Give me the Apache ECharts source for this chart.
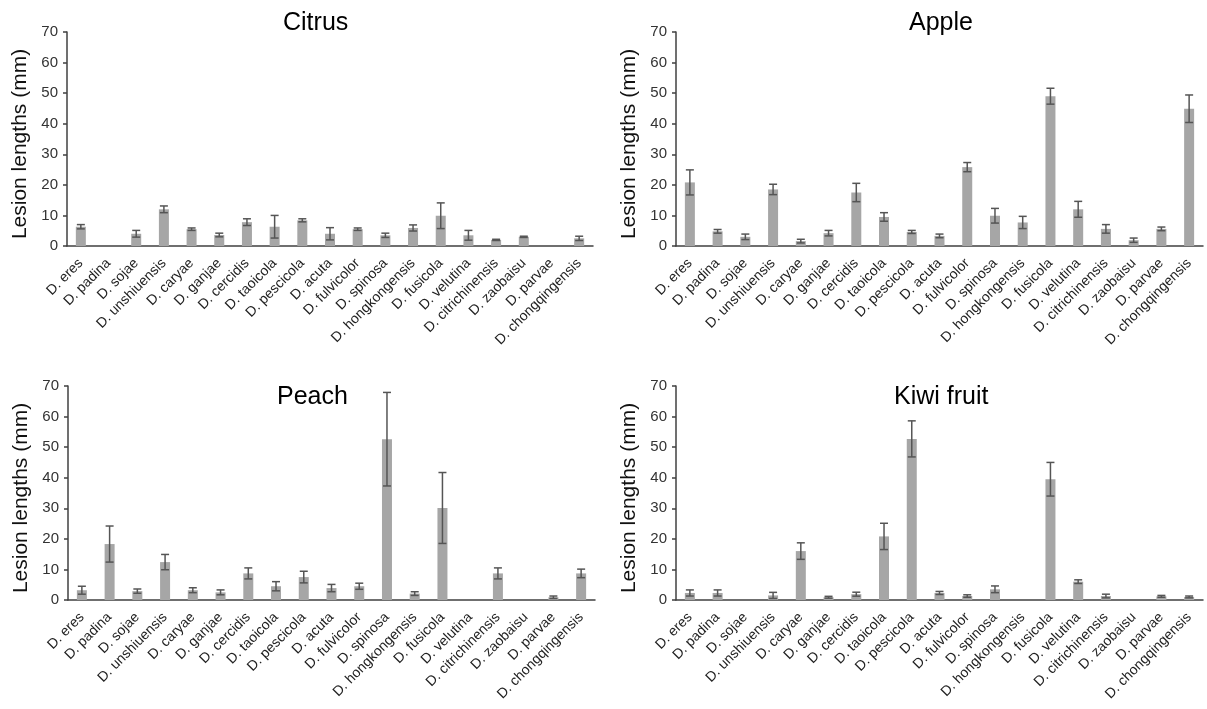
<!DOCTYPE html>
<html><head><meta charset="utf-8">
<script src="https://cdn.jsdelivr.net/npm/echarts@6/dist/echarts.min.js"></script>
<style>html,body{margin:0;padding:0;background:#fff}#c{width:1207px;height:709px}</style>
</head><body><div id="c"></div>
<script>
const categories = ['D. eres','D. padina','D. sojae','D. unshiuensis','D. caryae','D. ganjae','D. cercidis','D. taoicola','D. pescicola','D. acuta','D. fulvicolor','D. spinosa','D. hongkongensis','D. fusicola','D. velutina','D. citrichinensis','D. zaobaisu','D. parvae','D. chongqingensis'];
const yTicks = [0,10,20,30,40,50,60,70];

const citrusMean = [6.3,0,4.0,12.0,5.5,3.6,7.8,6.3,8.4,4.0,5.5,3.5,5.9,9.9,3.5,2.0,3.0,0,2.5];
const citrusErr  = [0.7,0,1.1,1.1,0.4,0.6,1.1,3.7,0.5,2.0,0.4,0.7,1.0,4.2,1.6,0.2,0.2,0,0.7];

const appleMean = [20.8,4.8,3.0,18.5,1.6,4.2,17.5,9.5,4.6,3.3,25.8,9.9,7.7,49.0,12.0,5.6,1.9,5.6,44.9];
const appleErr  = [4.1,0.6,0.9,1.7,0.6,0.9,3.0,1.4,0.5,0.6,1.5,2.4,2.0,2.6,2.6,1.4,0.7,0.6,4.5];

const peachMean = [3.2,18.3,2.9,12.4,3.2,2.5,8.7,4.5,7.5,3.9,4.5,52.6,2.1,30.1,0,8.7,0,0.9,8.7];
const peachErr  = [1.3,5.9,0.7,2.5,0.8,0.8,1.8,1.5,1.9,1.2,1.0,15.3,0.6,11.6,0,1.8,0,0.4,1.4];

const kiwiMean = [2.3,2.3,0,1.5,16.0,0.9,1.9,20.8,52.7,2.3,1.3,3.5,0,39.5,6.0,1.3,0,1.2,1.0];
const kiwiErr  = [1.0,1.0,0,1.0,2.7,0.3,0.65,4.3,5.9,0.5,0.4,1.1,0,5.5,0.6,0.6,0,0.3,0.3];

const panels = [
  {title:'Citrus', mean:citrusMean, err:citrusErr, grid:{left:67,right:614,top:32,height:214}, tl:278, tt:6},
  {title:'Apple', mean:appleMean, err:appleErr, grid:{left:676,right:4,top:32,height:214}, tl:904, tt:6},
  {title:'Peach', mean:peachMean, err:peachErr, grid:{left:68,right:612,top:386,height:214}, tl:272, tt:380},
  {title:'Kiwi fruit', mean:kiwiMean, err:kiwiErr, grid:{left:676,right:4,top:386,height:214}, tl:889, tt:380}
];

const FONT = 'Liberation Sans, Arial, sans-serif';
const option = {
  backgroundColor:'#fff',
  animation:false,
  title: panels.map(p=>({text:p.title,left:p.tl,top:p.tt,textStyle:{fontFamily:FONT,fontSize:25,fontWeight:'normal',color:'#000'}})),
  grid: panels.map(p=>p.grid),
  xAxis: panels.map((p,i)=>({type:'category',gridIndex:i,data:categories,
    axisLine:{lineStyle:{color:'#404040',width:1.5}},axisTick:{show:false},
    axisLabel:{rotate:45,interval:0,fontFamily:FONT,fontSize:14,color:'#222',margin:15}})),
  yAxis: panels.map((p,i)=>({type:'value',gridIndex:i,min:yTicks[0],max:yTicks[yTicks.length-1],interval:yTicks[1]-yTicks[0],
    name:'Lesion lengths (mm)',nameLocation:'middle',nameGap:36,
    nameTextStyle:{fontFamily:FONT,fontSize:21,color:'#111',padding:[0,10,0,0]},
    axisLine:{show:true,lineStyle:{color:'#404040',width:1.5}},
    axisTick:{show:true,length:4,lineStyle:{color:'#404040',width:1.5}},
    splitLine:{show:false},
    axisLabel:{fontFamily:FONT,fontSize:15,color:'#333',margin:9}})),
  series: []
};
panels.forEach((p,i)=>{
  option.series.push({type:'bar',xAxisIndex:i,yAxisIndex:i,data:p.mean,barWidth:10,itemStyle:{color:'#a6a6a6'}});
  option.series.push({type:'custom',xAxisIndex:i,yAxisIndex:i,
    data:p.mean.map((m,k)=>[k,m,p.err[k]]),
    renderItem:function(params,api){
      const m=api.value(1), e=api.value(2);
      if(!m) return null;
      const x=api.value(0);
      const t=api.coord([x,m+e]), b=api.coord([x,m-e]);
      const hw=4;
      const st={stroke:'#555',lineWidth:1.5};
      return {type:'group',children:[
        {type:'line',shape:{x1:t[0],y1:t[1],x2:b[0],y2:b[1]},style:st},
        {type:'line',shape:{x1:t[0]-hw,y1:t[1],x2:t[0]+hw,y2:t[1]},style:st},
        {type:'line',shape:{x1:b[0]-hw,y1:b[1],x2:b[0]+hw,y2:b[1]},style:st}
      ]};
    },z:3});
});
const chart = echarts.init(document.getElementById('c'),null,{renderer:'canvas'});
chart.setOption(option);
</script></body></html>
